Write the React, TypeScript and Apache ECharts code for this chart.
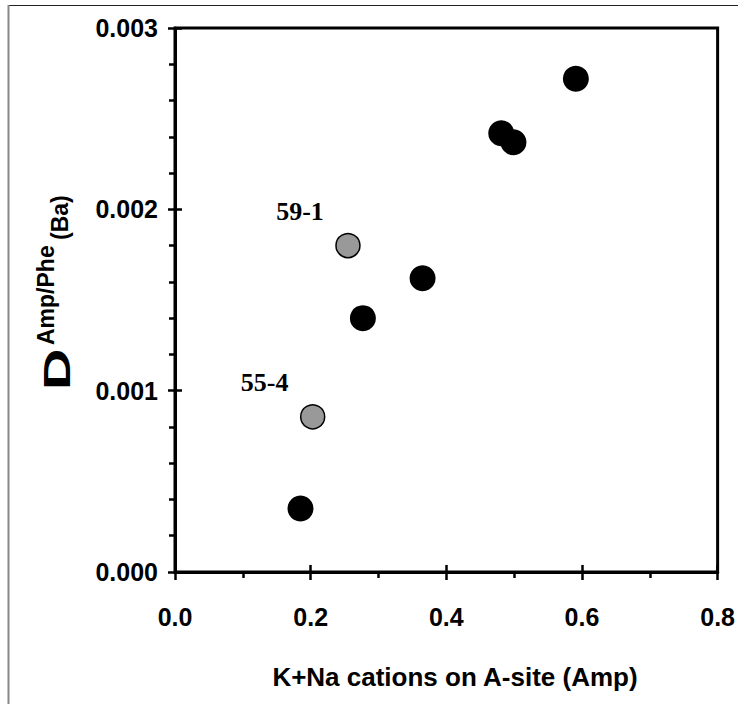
import React, { useEffect, useRef } from "react";
import * as echarts from "echarts";

// Black symbols: amphibole/phenocryst pairs
const blackX = [0.591, 0.481, 0.499, 0.365, 0.277, 0.185];
const blackY = [0.00272, 0.00242, 0.00237, 0.00162, 0.0014, 0.00035];
// Grey labelled samples
const grayX = [0.255, 0.203];
const grayY = [0.0018, 0.000856];
const grayNames = ["59-1", "55-4"];

const xTicks = { min: 0, max: 0.8, interval: 0.2 };
const yTicks = { min: 0, max: 0.003, interval: 0.001 };

const xTitle = "K+Na cations on A-site (Amp)";
const yTitleMain = "D";
const yTitleSub = "Amp/Phe";
const yTitleEnd = "(Ba)";

const SANS = '"Liberation Sans", Arial, sans-serif';
const SERIF = '"Liberation Serif", "Times New Roman", serif';

export default function App() {
  const ref = useRef<HTMLDivElement>(null);
  useEffect(() => {
    const chart = echarts.init(ref.current!, null, { renderer: "svg" });
    const black = "#000";
    const tickLabel = {
      fontFamily: SANS,
      fontWeight: "bold" as const,
      fontSize: 25,
      color: black,
    };
    const lineStyle = { color: black, width: 2.5 };
    chart.setOption({
      animation: false,
      backgroundColor: "#fff",
      grid: {
        left: 175,
        top: 28,
        right: 20,
        bottom: 132,
        show: true,
        borderColor: black,
        borderWidth: 3,
        backgroundColor: "transparent",
      },
      xAxis: [
        {
          type: "value",
          ...xTicks,
          position: "bottom",
          axisLine: { show: true, lineStyle: { color: black, width: 3 } },
          axisTick: { show: true, inside: false, length: 8, lineStyle },
          minorTick: { show: true, splitNumber: 2, length: 6, lineStyle },
          splitLine: { show: false },
          minorSplitLine: { show: false },
          axisLabel: {
            ...tickLabel,
            margin: 32,
            formatter: (v: number) => v.toFixed(1),
          },
        },
        {
          type: "value",
          ...xTicks,
          position: "bottom",
          axisLine: { show: false },
          axisTick: { show: true, inside: true, length: 7, lineStyle },
          axisLabel: { show: false },
          splitLine: { show: false },
        },
      ],
      yAxis: [
        {
          type: "value",
          ...yTicks,
          position: "left",
          axisLine: { show: true, lineStyle: { color: black, width: 3 } },
          axisTick: { show: true, inside: false, length: 7, lineStyle },
          minorTick: { show: true, splitNumber: 5, length: 6, lineStyle },
          splitLine: { show: false },
          minorSplitLine: { show: false },
          axisLabel: {
            ...tickLabel,
            margin: 17,
            formatter: (v: number) => v.toFixed(3),
          },
        },
        {
          type: "value",
          ...yTicks,
          position: "left",
          axisLine: { show: false },
          axisTick: { show: true, inside: true, length: 7, lineStyle },
          axisLabel: { show: false },
          splitLine: { show: false },
        },
      ],
      series: [
        {
          type: "scatter",
          xAxisIndex: 0,
          yAxisIndex: 0,
          symbol: "circle",
          symbolSize: 26,
          itemStyle: { color: black, opacity: 1 },
          data: blackX.map((x, i) => [x, blackY[i]]),
          z: 3,
        },
        {
          type: "scatter",
          xAxisIndex: 0,
          yAxisIndex: 0,
          symbol: "circle",
          symbolSize: 24,
          itemStyle: {
            color: "#999999",
            borderColor: black,
            borderWidth: 1.5,
            opacity: 1,
          },
          data: grayX.map((x, i) => [x, grayY[i], grayNames[i]]),
          label: {
            show: true,
            position: "inside",
            offset: [-48, -34],
            formatter: (p: any) => p.value[2],
            fontFamily: SERIF,
            fontWeight: "bold",
            fontSize: 26,
            color: black,
            opacity: 1,
          },
          z: 4,
        },
      ],
      graphic: [
        {
          type: "line",
          shape: { x1: 8, y1: 5.5, x2: 738, y2: 5.5 },
          style: { stroke: "#222", lineWidth: 1 },
        },
        {
          type: "line",
          shape: { x1: 8.5, y1: 5, x2: 8.5, y2: 704 },
          style: { stroke: "#888", lineWidth: 2 },
        },
        {
          type: "text",
          x: 455,
          y: 677,
          style: {
            text: xTitle,
            fontFamily: SANS,
            fontWeight: "bold",
            fontSize: 26,
            fill: black,
            align: "center",
            verticalAlign: "middle",
          },
        },
        {
          type: "group",
          x: 70,
          y: 390,
          rotation: Math.PI / 2,
          children: [
            {
              type: "text",
              x: 0,
              y: -13,
              scaleX: 1.55,
              style: {
                text: yTitleMain,
                fontFamily: SANS,
                fontWeight: "bold",
                fontSize: 37,
                fill: black,
                align: "left",
                verticalAlign: "middle",
              },
            },
            {
              type: "text",
              x: 45,
              y: -24,
              style: {
                text: yTitleSub,
                fontFamily: SANS,
                fontWeight: "bold",
                fontSize: 23,
                fill: black,
                align: "left",
                verticalAlign: "middle",
              },
            },
            {
              type: "text",
              x: 150,
              y: -10,
              style: {
                text: yTitleEnd,
                fontFamily: SANS,
                fontWeight: "bold",
                fontSize: 23,
                fill: black,
                align: "left",
                verticalAlign: "middle",
              },
            },
          ],
        },
      ],
    });
    return () => chart.dispose();
  }, []);
  return (
    <div
      ref={ref}
      style={{ position: "fixed", left: 0, top: 0, width: 738, height: 704 }}
    />
  );
}
